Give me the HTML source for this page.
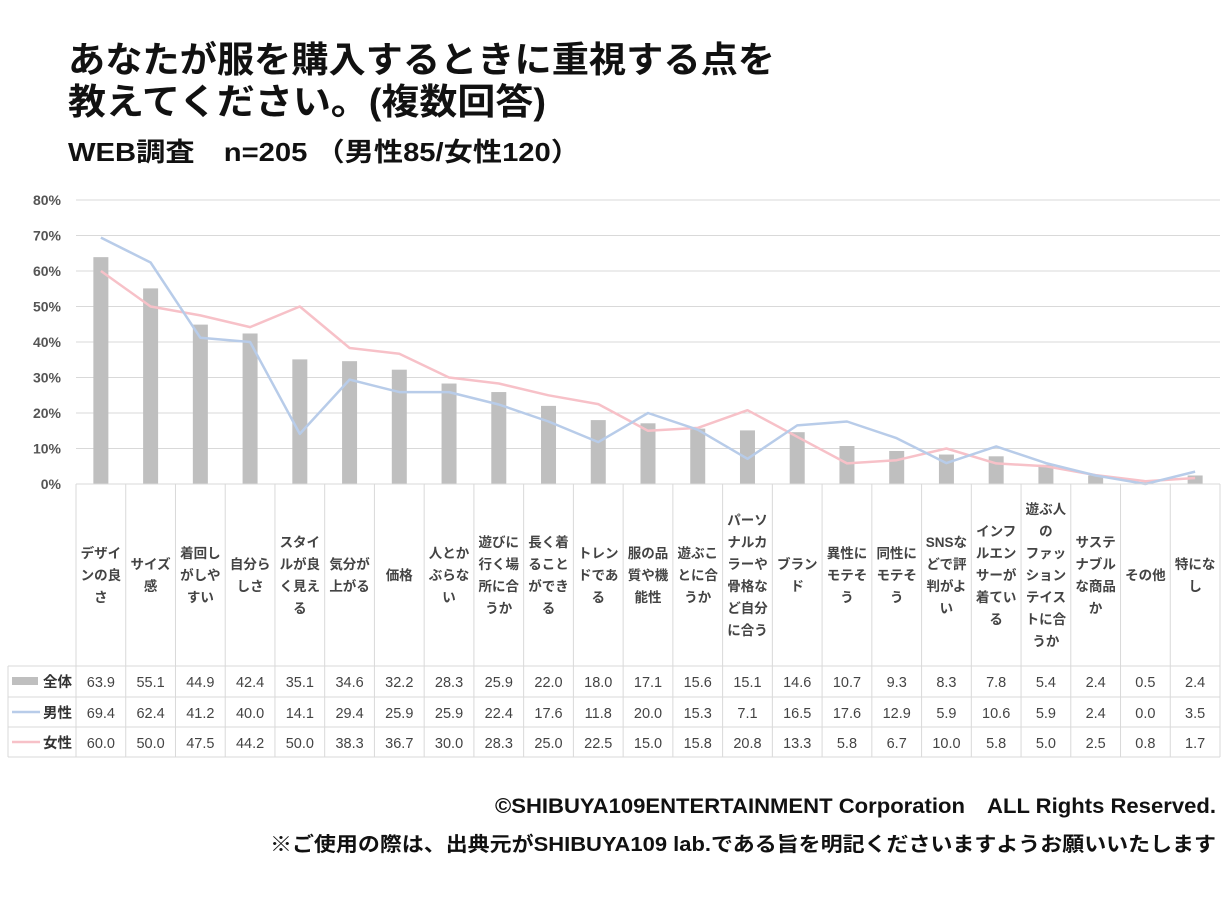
<!DOCTYPE html>
<html><head><meta charset="utf-8">
<style>
body{margin:0;background:#fff;width:1229px;height:902px;overflow:hidden;font-family:"Liberation Sans","Noto Sans CJK JP",sans-serif;}
svg text{font-family:"Liberation Sans","Noto Sans CJK JP",sans-serif;}
</style></head><body>
<svg id="s" width="1229" height="902" xmlns="http://www.w3.org/2000/svg">
<text x="68" y="72" font-size="36" font-weight="bold" fill="#111" textLength="707" lengthAdjust="spacingAndGlyphs">あなたが服を購入するときに重視する点を</text>
<text x="68" y="114" font-size="36" font-weight="bold" fill="#111" textLength="478" lengthAdjust="spacingAndGlyphs">教えてください。(複数回答)</text>
<text x="68" y="161" font-size="26" font-weight="bold" fill="#111" textLength="512" lengthAdjust="spacingAndGlyphs">WEB調査　n=205 （男性85/女性120）</text>
<text x="1216" y="813" font-size="21" font-weight="bold" fill="#111" text-anchor="end" textLength="721" lengthAdjust="spacingAndGlyphs">©SHIBUYA109ENTERTAINMENT Corporation　ALL Rights Reserved.</text>
<text x="1216" y="851" font-size="20" font-weight="bold" fill="#111" text-anchor="end" textLength="946" lengthAdjust="spacingAndGlyphs">※ご使用の際は、出典元がSHIBUYA109 lab.である旨を明記くださいますようお願いいたします</text>
<g id="g"></g>
</svg>
<script>
var labels=[["デザイ","ンの良","さ"],["サイズ","感"],["着回し","がしや","すい"],["自分ら","しさ"],["スタイ","ルが良","く見え","る"],["気分が","上がる"],["価格"],["人とか","ぶらな","い"],["遊びに","行く場","所に合","うか"],["長く着","ること","ができ","る"],["トレン","ドであ","る"],["服の品","質や機","能性"],["遊ぶこ","とに合","うか"],["パーソ","ナルカ","ラーや","骨格な","ど自分","に合う"],["ブラン","ド"],["異性に","モテそ","う"],["同性に","モテそ","う"],["SNSな","どで評","判がよ","い"],["インフ","ルエン","サーが","着てい","る"],["遊ぶ人","の","ファッ","ション","テイス","トに合","うか"],["サステ","ナブル","な商品","か"],["その他"],["特にな","し"]];
var all=[63.9,55.1,44.9,42.4,35.1,34.6,32.2,28.3,25.9,22.0,18.0,17.1,15.6,15.1,14.6,10.7,9.3,8.3,7.8,5.4,2.4,0.5,2.4];
var m=[69.4,62.4,41.2,40.0,14.1,29.4,25.9,25.9,22.4,17.6,11.8,20.0,15.3,7.1,16.5,17.6,12.9,5.9,10.6,5.9,2.4,0.0,3.5];
var f=[60.0,50.0,47.5,44.2,50.0,38.3,36.7,30.0,28.3,25.0,22.5,15.0,15.8,20.8,13.3,5.8,6.7,10.0,5.8,5.0,2.5,0.8,1.7];
var L=76,W=(1220-76)/23,Y0=484,K=3.55,h='';
function y(v){return Y0-v*K;}
for(var i=0;i<=8;i++){var yy=y(i*10);
 h+='<line x1="76" x2="1220" y1="'+yy+'" y2="'+yy+'" stroke="#d9d9d9" stroke-width="1"/>';
 h+='<text x="61" y="'+(yy+5)+'" font-size="14" font-weight="bold" fill="#555" text-anchor="end">'+(i*10)+'%</text>';}
for(i=0;i<23;i++){var cx=L+W*(i+0.5);
 h+='<rect x="'+(cx-7.5)+'" y="'+y(all[i])+'" width="15" height="'+(all[i]*K)+'" fill="#bfbfbf"/>';}
function pl(d,c){var p=d.map(function(v,i){return (L+W*(i+0.5)).toFixed(1)+','+y(v).toFixed(1)}).join(' ');
 return '<polyline points="'+p+'" fill="none" stroke="'+c+'" stroke-width="2.5" stroke-linejoin="round"/>';}
h+=pl(f,'#f7c1c8')+pl(m,'#b8cce9');
var rows=[484,666,697,727,757];
h+='<line x1="76" x2="1220" y1="484" y2="484" stroke="#d9d9d9"/>';
for(i=0;i<=23;i++){var xx=L+W*i;h+='<line x1="'+xx+'" x2="'+xx+'" y1="484" y2="757" stroke="#d9d9d9"/>';}
h+='<line x1="8" x2="8" y1="666" y2="757" stroke="#d9d9d9"/>';
[666,697,727,757].forEach(function(r){h+='<line x1="8" x2="1220" y1="'+r+'" y2="'+r+'" stroke="#d9d9d9"/>';});
for(i=0;i<23;i++){var cx=L+W*(i+0.5),lb=labels[i],lh=22,st=575-(lb.length-1)*lh/2+5;
 for(var j=0;j<lb.length;j++)h+='<text x="'+cx+'" y="'+(st+j*lh)+'" font-size="13.5" font-weight="bold" fill="#444" text-anchor="middle">'+lb[j]+'</text>';
 [all,m,f].forEach(function(d,k){h+='<text x="'+cx+'" y="'+(rows[k+1]+21)+'" font-size="14.5" fill="#444" text-anchor="middle">'+d[i].toFixed(1)+'</text>';});}
h+='<rect x="12" y="677" width="26" height="8" fill="#bfbfbf"/><line x1="12" x2="40" y1="712" y2="712" stroke="#b8cce9" stroke-width="2.5"/><line x1="12" x2="40" y1="742" y2="742" stroke="#f7c1c8" stroke-width="2.5"/>';
['全体','男性','女性'].forEach(function(t,k){h+='<text x="72" y="'+(rows[k+1]+21)+'" font-size="14.5" font-weight="bold" fill="#333" text-anchor="end">'+t+'</text>';});
document.getElementById('g').innerHTML=h;
</script>
</body></html>
